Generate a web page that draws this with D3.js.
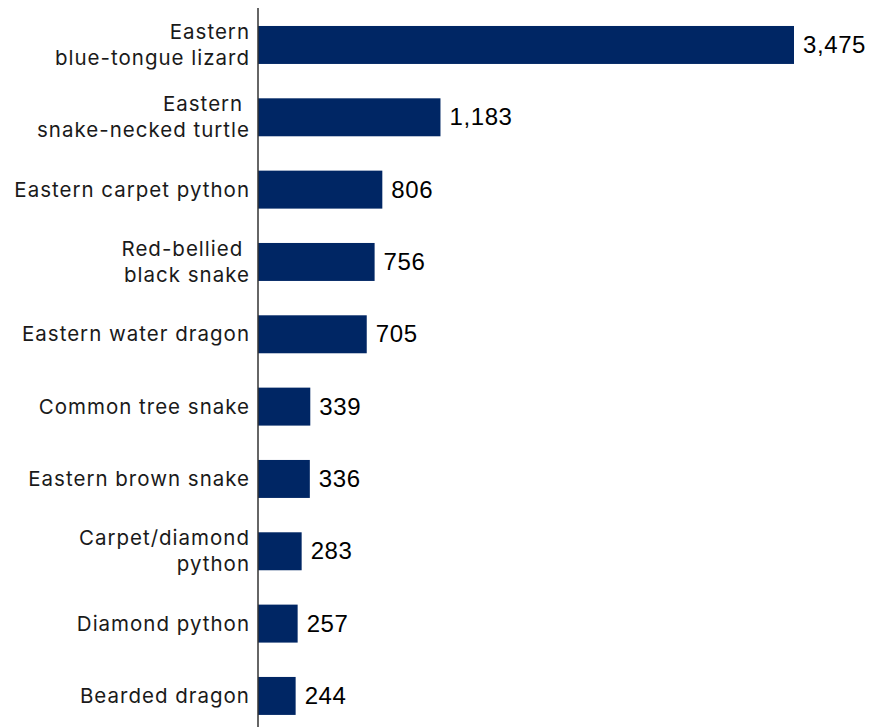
<!DOCTYPE html>
<html><head><meta charset="utf-8">
<script src="https://cdn.jsdelivr.net/npm/d3@7"></script>
<style>body{margin:0;background:#fff}svg{display:block}</style>
</head><body>
<svg id="c" width="883" height="727"></svg>
<script>
const categories = [
  ["Eastern", "blue-tongue lizard"],
  ["Eastern ", "snake-necked turtle"],
  ["Eastern carpet python"],
  ["Red-bellied ", "black snake"],
  ["Eastern water dragon"],
  ["Common tree snake"],
  ["Eastern brown snake"],
  ["Carpet/diamond", "python"],
  ["Diamond python"],
  ["Bearded dragon"]
];
const values = [3475, 1183, 806, 756, 705, 339, 336, 283, 257, 244];

const svg = d3.select("#c");
const x0 = 258;
const x = d3.scaleLinear().domain([0, 3475]).range([x0, 794]);
const ids = categories.map((d, i) => i);
const y = d3.scaleBand().domain(ids).range([8.8, 732.1]).paddingInner(0.475).paddingOuter(0.2375);

svg.selectAll("rect.bar").data(values).join("rect")
  .attr("class", "bar")
  .attr("x", x(0)).attr("y", (d, i) => y(i))
  .attr("width", d => x(d) - x(0)).attr("height", y.bandwidth())
  .attr("fill", "#002664");

svg.selectAll("text.val").data(values).join("text")
  .attr("class", "val")
  .attr("x", d => x(d) + 9)
  .attr("y", (d, i) => y(i) + y.bandwidth() / 2)
  .attr("dy", "0.33em")
  .attr("font-family", "'Liberation Sans', Arial, sans-serif")
  .attr("font-size", 24)
  .attr("letter-spacing", 0.6)
  .attr("fill", "#000")
  .text(d => d3.format(",")(d));

const lh = 26;
const lab = svg.selectAll("text.cat").data(categories).join("text")
  .attr("class", "cat")
  .attr("text-anchor", "end")
  .attr("font-family", "Inter, 'Noto Sans', sans-serif")
  .attr("font-size", 20.5)
  .attr("letter-spacing", 1.0)
  .attr("fill", "#1a1a1a")
  .style("white-space", "pre")
  .attr("transform", (d, i) => `translate(250,${y(i) + y.bandwidth() / 2})`);
lab.each(function(d) {
  const n = d.length;
  d3.select(this).selectAll("tspan").data(d).join("tspan")
    .attr("x", 0)
    .attr("y", (t, j) => (j - (n - 1) / 2) * lh)
    .attr("dy", "0.35em")
    .text(t => t);
});

svg.append("line")
  .attr("x1", x0).attr("x2", x0).attr("y1", 8).attr("y2", 727)
  .attr("stroke", "#333").attr("stroke-width", 1.5);
</script>
</body></html>
